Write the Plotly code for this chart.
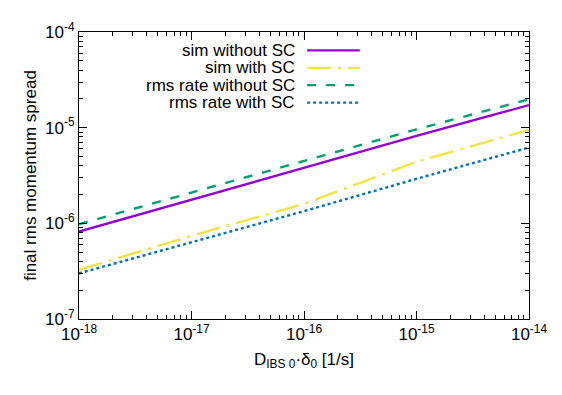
import plotly.graph_objects as go

# drive strength D_IBS0*delta0 [1/s]
x_vals = [1e-18, 1e-17, 1e-16, 1e-15, 1e-14]

# final rms momentum spread
sim_no_sc = [8.2e-7, 1.77e-6, 3.79e-6, 8.2e-6, 1.72e-5]
sim_sc = [3.27e-7, 7.4e-7, 1.6e-6, 4.4e-6, 9.5e-6]
rate_no_sc = [9.8e-7, 2.09e-6, 4.43e-6, 9.6e-6, 1.98e-5]
rate_sc = [3.0e-7, 6.3e-7, 1.34e-6, 2.92e-6, 6.2e-6]

names = ["sim without SC", "sim with SC", "rms rate without SC", "rms rate with SC"]
colors = ["#9400d3", "#f0e442", "#009e73", "#0072b2"]
dashes = ["solid", "24px,7px,3px,7px", "9px,10px", "3px,3px"]

x_ticks = [1e-18, 1e-17, 1e-16, 1e-15, 1e-14]
x_tick_text = ["10<sup>-18</sup>", "10<sup>-17</sup>", "10<sup>-16</sup>", "10<sup>-15</sup>", "10<sup>-14</sup>"]
y_ticks = [1e-7, 1e-6, 1e-5, 1e-4]
y_tick_text = ["10<sup>-7</sup>", "10<sup>-6</sup>", "10<sup>-5</sup>", "10<sup>-4</sup>"]

FONT = "Liberation Sans, Arial, sans-serif"

fig = go.Figure()
for ys, name, c, d in zip([sim_no_sc, sim_sc, rate_no_sc, rate_sc], names, colors, dashes):
    fig.add_trace(go.Scatter(
        x=x_vals, y=ys, mode="lines", name=name,
        line=dict(color=c, width=2.4, dash=d),
        showlegend=False
    ))

# gnuplot-style key: right aligned text, sample line on the right
key_y = [0.936, 0.875, 0.815, 0.754]
for name, c, d, ky in zip(names, colors, dashes, key_y):
    fig.add_annotation(
        x=0.482, y=ky, xref="paper", yref="paper",
        text=name, showarrow=False, xanchor="right", yanchor="middle",
        borderpad=0,
        font=dict(family=FONT, size=17, color="black")
    )
    fig.add_shape(
        type="line", xref="paper", yref="paper",
        x0=0.507, x1=0.624, y0=ky, y1=ky,
        line=dict(color=c, width=2.4, dash=d)
    )

axis_common = dict(
    showline=True, linecolor="black", linewidth=1, mirror="ticks",
    ticks="inside", ticklen=8, tickcolor="black", tickwidth=1,
    showgrid=False, zeroline=False,
    tickfont=dict(family=FONT, size=17, color="black"),
    minor=dict(ticks="inside", ticklen=4, tickcolor="black", dtick="D1", showgrid=False),
)

fig.update_xaxes(
    type="log", range=[-18, -14],
    tickvals=x_ticks, ticktext=x_tick_text,
    title=dict(text="D<sub>IBS 0</sub>·δ<sub>0</sub> [1/s]", font=dict(family=FONT, size=17, color="black"), standoff=9),
    **axis_common
)
fig.update_yaxes(
    type="log", range=[-7, -4],
    tickvals=y_ticks, ticktext=y_tick_text,
    title=dict(text="final rms momentum spread", font=dict(family=FONT, size=17, color="black"), standoff=4),
    **axis_common
)

# page body adds an 8px offset, so margins are shifted to compensate
fig.update_layout(
    width=562, height=395,
    margin=dict(l=71, r=41, t=14, b=84),
    plot_bgcolor="white", paper_bgcolor="white",
    font=dict(family=FONT, size=17, color="black"),
)

fig.write_html("out.html")
